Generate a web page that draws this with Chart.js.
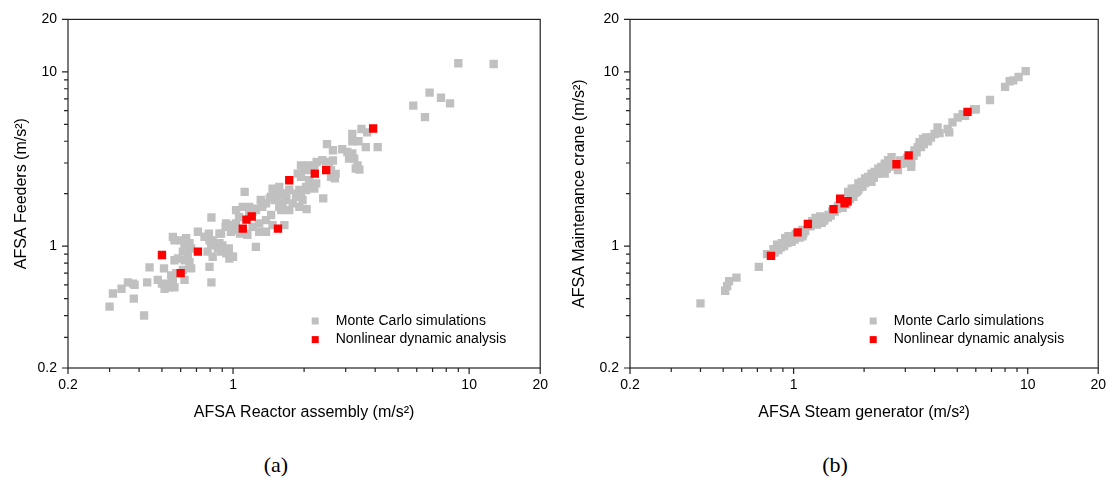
<!DOCTYPE html>
<html>
<head>
<meta charset="utf-8">
<script src="https://cdn.jsdelivr.net/npm/chart.js@4.4.1/dist/chart.umd.min.js"></script>
<style>
  body { margin: 0; background: #fff; width: 1115px; height: 485px; position: relative; overflow: hidden; }
  canvas { position: absolute; top: 0; }
  #chartA { left: 0; }
  #chartB { left: 557px; }
  .caption { position: absolute; top: 452px; width: 60px; text-align: center;
             font: 22px "Liberation Serif", "Times New Roman", serif; color: #000; }
</style>
</head>
<body>
<canvas id="chartA" width="557" height="430"></canvas>
<canvas id="chartB" width="558" height="430"></canvas>
<div class="caption" style="left:246px">(a)</div>
<div class="caption" style="left:805px">(b)</div>
<script>
// log axis ticks: every decade step, only some get a label
const TICK_VALUES = [0.2, 0.3, 0.4, 0.5, 0.6, 0.7, 0.8, 0.9, 1, 2, 3, 4, 5, 6, 7, 8, 9, 10, 20];
const TICK_LABELS = [0.2, 1, 10, 20];
const SERIES_NAMES = ['Monte Carlo simulations', 'Nonlinear dynamic analysis'];

// (a) reactor assembly vs feeders, [x, y] in m/s2
const feedersMonteCarlo = [
  [9.0, 11.2], [12.7, 11.1], [6.8, 7.6], [7.6, 7.1], [8.3, 6.6], [5.8, 6.4], [6.5, 5.5],
  [4.1, 3.7], [3.5, 4.7], [3.7, 4.5], [3.2, 4.4], [3.2, 4.0], [3.4, 4.0], [3.65, 3.7], [2.9, 3.6],
  [3.05, 3.47], [3.2, 3.4], [3.1, 3.18], [3.26, 3.18], [3.37, 2.91], [3.31, 2.79], [3.43, 2.75],
  [2.5, 3.85], [2.65, 3.55], [2.65, 3.1], [2.55, 2.91], [2.6, 2.73], [2.6, 2.5], [2.7, 2.45], [2.72, 2.6],
  [2.39, 3.11], [2.48, 3.04], [2.26, 3.04], [2.21, 2.91],
  [1.94, 2.91], [2.07, 2.91], [2.0, 2.73], [2.14, 2.73], [1.88, 2.61], [1.94, 2.5], [2.1, 2.39],
  [2.25, 2.29], [2.21, 2.14], [2.04, 2.1], [1.91, 2.1], [1.85, 2.0], [1.94, 1.92], [1.73, 2.1],
  [1.68, 2.0], [1.57, 2.19], [1.47, 2.14], [1.57, 1.96], [1.5, 1.84], [1.43, 1.88], [1.38, 1.76],
  [1.31, 1.84], [1.33, 1.68], [1.25, 1.64], [1.21, 1.57], [1.17, 1.57], [2.41, 1.88], [2.05, 1.63],
  [1.12, 2.05], [1.03, 1.61], [1.10, 1.68], [1.17, 1.68], [1.25, 1.61], [1.34, 1.76], [1.45, 1.92],
  [1.5, 2.1], [1.65, 2.0], [1.68, 1.84], [1.62, 1.76], [1.57, 1.68], [1.6, 1.61], [1.73, 1.61],
  [1.79, 1.76], [1.85, 1.92], [2.04, 2.19], [2.1, 2.34], [2.17, 2.24], [1.97, 1.84], [1.91, 1.68],
  [1.06, 1.47], [1.03, 1.35], [1.06, 1.24], [1.14, 1.18], [1.21, 1.29], [1.29, 1.35], [1.29, 1.21],
  [1.38, 1.21], [1.38, 1.41], [1.45, 1.51], [1.47, 1.32], [1.65, 1.32], [1.25, 0.99],
  [0.965, 1.29], [0.935, 1.35], [0.98, 1.21], [0.876, 1.18], [0.93, 1.29], [0.98, 1.32], [1.03, 1.24],
  [1.07, 1.18], [1.15, 1.16], [1.0, 0.87], [0.96, 0.97], [0.9, 1.01],
  [0.81, 1.46], [0.81, 0.62], [0.98, 0.87], [0.935, 0.91], [0.90, 0.99], [0.876, 1.04], [0.82, 1.08],
  [0.79, 1.18], [0.77, 1.13], [0.71, 1.21], [0.757, 1.13], [0.795, 1.08], [0.808, 1.01], [0.862, 0.97],
  [0.89, 0.99], [0.78, 0.93], [0.82, 0.87], [0.795, 0.76], [0.89, 0.93], [0.965, 0.85], [0.89, 1.18],
  [0.556, 1.13], [0.565, 1.08], [0.603, 1.08], [0.633, 1.11], [0.654, 1.04], [0.623, 0.99],
  [0.665, 0.97], [0.613, 0.93], [0.643, 0.89], [0.584, 0.85], [0.565, 0.83], [0.623, 0.83],
  [0.654, 0.81], [0.665, 0.745], [0.613, 0.73], [0.575, 0.70], [0.547, 0.68], [0.556, 0.64],
  [0.53, 0.60], [0.565, 0.58], [0.623, 0.64], [0.538, 0.61], [0.538, 0.58], [0.513, 0.57], [0.5, 0.61],
  [0.443, 0.755], [0.51, 0.745], [0.433, 0.62], [0.48, 0.64], [0.377, 0.61], [0.359, 0.62],
  [0.383, 0.60], [0.337, 0.57], [0.31, 0.535], [0.30, 0.45], [0.38, 0.50], [0.42, 0.40]
];
const feedersNonlinear = [
  [0.50, 0.89], [0.60, 0.70], [0.71, 0.93], [1.10, 1.26], [1.14, 1.42], [1.20, 1.48],
  [1.55, 1.26], [1.73, 2.39], [2.22, 2.61], [2.48, 2.73], [3.92, 4.73]
];

// (b) steam generator vs maintenance crane, [x, y] in m/s2
const craneMonteCarlo = [
  [0.40, 0.47], [0.51, 0.555], [0.52, 0.59], [0.53, 0.63], [0.57, 0.66], [0.71, 0.76], [0.77, 0.90],
  [0.82, 0.96], [0.85, 1.02], [0.83, 0.92], [0.86, 0.95], [0.89, 1.04], [0.88, 0.98], [0.92, 1.11],
  [0.91, 1.0], [0.95, 1.14], [0.94, 1.04], [0.985, 1.11], [0.98, 1.06], [1.02, 1.17], [1.01, 1.09],
  [1.09, 1.14], [1.06, 1.12], [1.09, 1.24], [1.12, 1.22], [1.10, 1.18], [1.2, 1.39], [1.18, 1.30],
  [1.24, 1.45], [1.22, 1.35], [1.26, 1.33], [1.30, 1.48], [1.32, 1.36], [1.36, 1.45], [1.35, 1.40],
  [1.41, 1.51], [1.40, 1.46], [1.46, 1.58], [1.44, 1.50], [1.5, 1.58], [1.53, 1.64], [1.55, 1.70],
  [1.60, 1.72], [1.62, 1.66], [1.68, 1.74], [1.71, 2.05], [1.74, 1.86], [1.77, 1.97], [1.77, 2.14],
  [1.80, 1.92], [1.83, 2.14], [1.83, 2.02], [1.86, 2.05], [1.89, 2.29], [1.89, 2.1], [1.92, 2.18],
  [1.95, 2.34], [1.97, 2.2], [2.02, 2.45], [2.02, 2.3], [2.08, 2.5], [2.08, 2.36], [2.15, 2.61],
  [2.15, 2.34], [2.2, 2.47], [2.22, 2.67], [2.3, 2.78], [2.28, 2.6], [2.37, 2.85], [2.36, 2.68],
  [2.45, 2.97], [2.45, 2.61], [2.5, 2.78], [2.53, 3.11], [2.58, 2.86], [2.62, 3.24], [2.66, 2.9],
  [2.79, 2.73], [2.88, 2.97], [2.85, 3.1], [2.98, 3.11], [2.95, 3.0], [3.05, 3.2], [3.18, 3.04],
  [3.18, 2.85], [3.28, 3.54], [3.25, 3.3], [3.39, 3.7], [3.35, 3.45], [3.45, 3.95], [3.5, 3.7],
  [3.57, 4.12], [3.6, 3.85], [3.68, 4.2], [3.75, 4.0], [3.86, 4.2], [4.0, 4.4], [4.12, 4.8],
  [4.2, 4.45], [4.55, 4.7], [4.62, 4.5], [4.77, 5.13], [5.02, 5.47], [5.27, 5.71], [5.4, 5.6],
  [5.9, 6.1], [6.0, 6.1], [6.9, 6.9], [8.0, 8.2], [8.37, 8.83], [8.67, 8.94], [9.14, 9.35], [9.8, 10.1]
];
const craneNonlinear = [
  [0.80, 0.88], [1.04, 1.20], [1.15, 1.34], [1.48, 1.63], [1.58, 1.87], [1.65, 1.76],
  [1.70, 1.81], [2.75, 2.95], [3.10, 3.32], [5.53, 5.9]
];

const GRAY = '#c0c0c0';
const RED = '#ff0000';
const INK = '#222';
const FONT = "'Liberation Sans', Arial, sans-serif";

// box round the plot, tick marks, and the legend inside the plot
const frameAndLegend = {
  id: 'frameAndLegend',
  afterDraw(chart) {
    const { ctx, chartArea: a, scales } = chart;
    ctx.save();
    ctx.strokeStyle = INK;
    ctx.lineWidth = 1.2;
    ctx.strokeRect(a.left, a.top, a.right - a.left, a.bottom - a.top);
    ctx.beginPath();
    scales.x.ticks.forEach(t => {
      const px = scales.x.getPixelForValue(t.value);
      const len = TICK_LABELS.includes(t.value) ? 6 : 4;
      ctx.moveTo(px, a.bottom);
      ctx.lineTo(px, a.bottom + len);
    });
    scales.y.ticks.forEach(t => {
      const py = scales.y.getPixelForValue(t.value);
      const len = TICK_LABELS.includes(t.value) ? 6 : 4;
      ctx.moveTo(a.left, py);
      ctx.lineTo(a.left - len, py);
    });
    ctx.stroke();

    ctx.font = '14px ' + FONT;
    ctx.textBaseline = 'middle';
    chart.data.datasets.forEach((ds, i) => {
      const cx = a.right - 225;
      const cy = a.bottom - 47 + i * 18.6;
      ctx.fillStyle = ds.backgroundColor;
      ctx.fillRect(cx - 3.5, cy - 3.5, 7, 7);
      ctx.fillStyle = '#000';
      ctx.fillText(ds.label, cx + 20.5, cy);
    });
    ctx.restore();
  }
};

function logAxis(title, fit, extra) {
  return Object.assign({
    type: 'logarithmic',
    min: 0.2,
    max: 20,
    afterBuildTicks: s => { s.ticks = TICK_VALUES.map(v => ({ value: v })); },
    afterFit: fit,
    grid: { display: false, drawTicks: false },
    border: { display: false },
    ticks: {
      autoSkip: false,
      maxRotation: 0,
      color: '#000',
      font: { family: FONT, size: 14 },
      callback: v => TICK_LABELS.includes(v) ? String(v) : ''
    },
    title: { display: true, text: title, color: '#000', font: { family: FONT, size: 16 } }
  }, extra);
}

function makeChart(id, mc, nda, xTitle, yTitle, yWidth, yTitlePad, pad) {
  new Chart(document.getElementById(id), {
    type: 'scatter',
    data: {
      datasets: [
        { label: SERIES_NAMES[0], data: mc.map(p => ({ x: p[0], y: p[1] })), backgroundColor: GRAY, order: 2 },
        { label: SERIES_NAMES[1], data: nda.map(p => ({ x: p[0], y: p[1] })), backgroundColor: RED, order: 1 }
      ]
    },
    options: {
      responsive: false,
      animation: false,
      devicePixelRatio: 1,
      layout: { padding: pad },
      elements: { point: { pointStyle: 'rect', radius: 5.9, borderWidth: 0, hoverRadius: 5.9 } },
      plugins: { legend: { display: false }, tooltip: { enabled: false } },
      scales: {
        x: logAxis(xTitle, s => { s.height = 62; }, { position: 'bottom' }),
        y: logAxis(yTitle, s => { s.width = yWidth; }, { position: 'left' })
      }
    },
    plugins: [frameAndLegend]
  });
  const c = Chart.getChart(id);
  c.options.scales.x.ticks.padding = 9;
  c.options.scales.y.ticks.padding = 11;
  c.options.scales.x.title.padding = { top: 0, bottom: 8 };
  c.options.scales.y.title.padding = { top: yTitlePad, bottom: 0 };
  c.update();
}

makeChart('chartA', feedersMonteCarlo, feedersNonlinear,
  'AFSA Reactor assembly (m/s²)', 'AFSA Feeders (m/s²)', 68, 12,
  { left: 0, right: 16, top: 19, bottom: 0 });
makeChart('chartB', craneMonteCarlo, craneNonlinear,
  'AFSA Steam generator (m/s²)', 'AFSA Maintenance crane (m/s²)', 73, 13,
  { left: 0, right: 13, top: 16, bottom: 0 });
</script>
</body>
</html>
